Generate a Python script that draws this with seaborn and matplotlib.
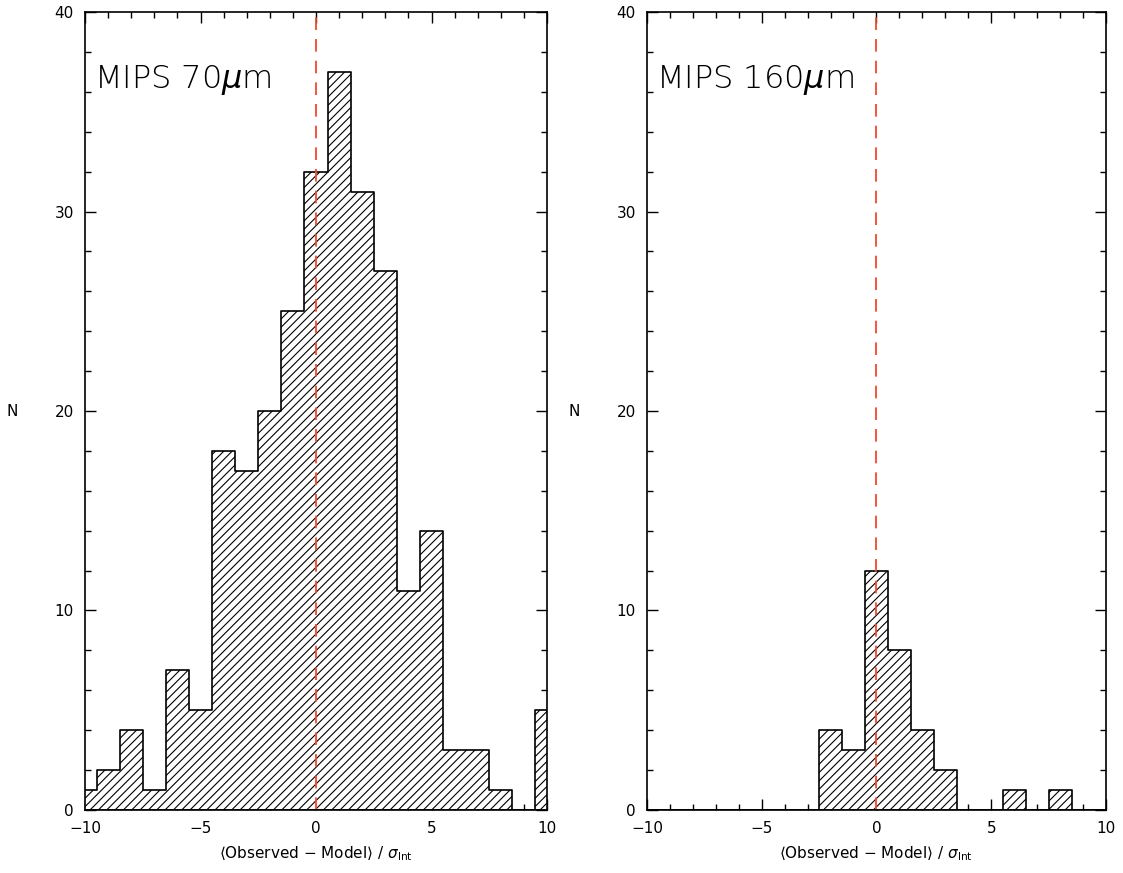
import numpy as np
import matplotlib
matplotlib.use('Agg')
import matplotlib.pyplot as plt
import seaborn as sns
from matplotlib.ticker import MultipleLocator

# bin centres (integer steps of (Observed - Model)/sigma_Int)
bin_centers = [-10, -9, -8, -7, -6, -5, -4, -3, -2, -1, 0,
               1, 2, 3, 4, 5, 6, 7, 8, 9, 10]

# counts per bin
counts_70 = [1, 2, 4, 1, 7, 5, 18, 17, 20, 25, 32,
             37, 31, 27, 11, 14, 3, 3, 1, 0, 5]
counts_160 = [0, 0, 0, 0, 0, 0, 0, 0, 4, 3, 12,
              8, 4, 2, 0, 0, 1, 0, 1, 0, 0]

panel_labels = [r'MIPS 70$\mu$m', r'MIPS 160$\mu$m']
xlabel = r'$\langle$Observed $-$ Model$\rangle$ / $\sigma_{\rm Int}$'

sns.set_style('ticks')
plt.rcParams['font.family'] = ['DejaVu Sans']
plt.rcParams['text.color'] = 'black'
plt.rcParams['axes.labelcolor'] = 'black'
plt.rcParams['hatch.linewidth'] = 0.8
plt.rcParams['xtick.direction'] = 'in'
plt.rcParams['ytick.direction'] = 'in'
plt.rcParams['mathtext.fontset'] = 'custom'
plt.rcParams['mathtext.rm'] = 'DejaVu Sans'
plt.rcParams['mathtext.it'] = 'DejaVu Sans:italic:light'
plt.rcParams['mathtext.fallback'] = 'stixsans'

fig = plt.figure(figsize=(11.23, 8.73), dpi=100)
ax1 = fig.add_axes([0.0757, 0.0722, 0.4114, 0.914])
ax2 = fig.add_axes([0.5761, 0.0722, 0.4087, 0.914])

for ax, counts, label in zip([ax1, ax2], [counts_70, counts_160], panel_labels):
    sns.histplot(x=bin_centers, weights=counts, discrete=True, element='step',
                 fill=True, facecolor='white', edgecolor='black', hatch='////',
                 linewidth=1.2, ax=ax)
    ax.axvline(0, color='#f24a2c', linestyle=(0, (7, 5)), linewidth=1.3)

    ax.set_xlim(-10, 10)
    ax.set_ylim(0, 40)
    ax.xaxis.set_major_locator(MultipleLocator(5))
    ax.xaxis.set_minor_locator(MultipleLocator(1))
    ax.yaxis.set_major_locator(MultipleLocator(10))
    ax.yaxis.set_minor_locator(MultipleLocator(2))
    ax.tick_params(which='both', direction='in', top=True, right=True,
                   labelsize=11, colors='black', width=1)
    ax.tick_params(which='major', length=8, pad=8)
    ax.tick_params(which='minor', length=4)
    for sp in ax.spines.values():
        sp.set_linewidth(1.2)
        sp.set_color('black')

    ax.set_xlabel(xlabel, fontsize=11)
    ax.xaxis.set_label_coords(0.5, -0.043)
    ax.set_ylabel('N', fontsize=11, rotation=0, va='center')
    ax.yaxis.set_label_coords(-0.158, 0.5)

    ax.text(-9.6, 36.6, label, fontsize=23, va='center', ha='left',
            fontweight='light', color='black')

fig.savefig('out.png', dpi=100)
